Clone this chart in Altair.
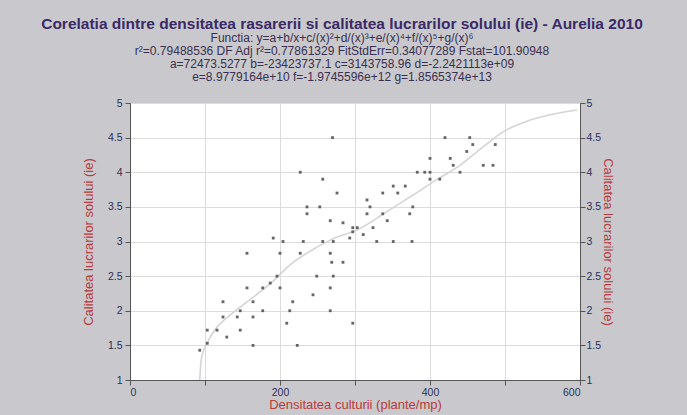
import altair as alt
import pandas as pd

# Observed plots: crop density (plants/m2) vs. soil-work quality score
density = [453, 420, 457, 487, 449, 427, 400, 431, 471, 484,
           440, 400, 393, 383, 413, 400, 351, 367, 337, 357,
           316, 377, 320, 316, 337, 373, 343, 324, 303, 297,
           311, 329, 351, 376, 293, 270, 227, 257, 276, 236,
           253, 236, 267, 284, 204, 231, 257, 271, 297, 191,
           200, 227, 267, 284, 269, 156, 196, 249, 271, 187,
           177, 200, 156, 267, 244, 124, 164, 217, 147, 177,
           213, 267, 124, 143, 164, 209, 297, 103, 116, 147,
           129, 103, 164, 223, 93]
quality = [4.5, 4.5, 4.4, 4.4, 4.3, 4.2, 4.2, 4.1, 4.1, 4.1,
           4.0, 4.0, 4.0, 4.0, 3.9, 3.9, 3.8, 3.8, 3.7, 3.7,
           3.6, 3.5, 3.5, 3.4, 3.4, 3.4, 3.3, 3.2, 3.2, 3.2,
           3.1, 3.0, 3.0, 3.0, 3.05, 4.5, 4.0, 3.9, 3.7, 3.5,
           3.5, 3.4, 3.3, 3.27, 3.0, 3.0, 3.0, 3.0, 3.14, 3.05,
           2.83, 2.83, 2.83, 2.7, 2.7, 2.83, 2.5, 2.5, 2.5, 2.4,
           2.33, 2.33, 2.33, 2.33, 2.23, 2.13, 2.13, 2.13, 2.0, 2.0,
           2.0, 2.0, 1.91, 1.91, 1.91, 1.82, 1.82, 1.72, 1.72, 1.72,
           1.62, 1.53, 1.5, 1.5, 1.43]

# Fitted curve
fit_x = [93, 95, 105, 113, 135, 160, 190, 213, 240, 267, 307, 345, 383, 410, 440, 470, 497, 530, 560, 596]
fit_y = [1.0, 1.3, 1.58, 1.72, 1.95, 2.16, 2.42, 2.66, 2.86, 3.02, 3.19, 3.45, 3.71, 3.90, 4.10, 4.36, 4.58, 4.74, 4.83, 4.90]

title_main = "Corelatia dintre densitatea rasarerii si calitatea lucrarilor solului (ie) - Aurelia 2010"
title_lines = [
    "Functia:  y=a+b/x+c/(x)²+d/(x)³+e/(x)⁴+f/(x)⁵+g/(x)⁶",
    "r²=0.79488536  DF Adj r²=0.77861329  FitStdErr=0.34077289  Fstat=101.90948",
    "a=72473.5277 b=-23423737.1 c=3143758.96 d=-2.2421113e+09",
    "e=8.9779164e+10 f=-1.9745596e+12 g=1.8565374e+13",
]
y_title = "Calitatea lucrarilor solului (ie)"
x_title = "Densitatea culturii (plante/mp)"

pts = pd.DataFrame({"x": density, "y": quality})
fit = pd.DataFrame({"x": fit_x, "y": fit_y})

xscale = alt.Scale(domain=[0, 600], nice=False, zero=False)
yscale = alt.Scale(domain=[1, 5], nice=False, zero=False)
yvals = [1, 1.5, 2, 2.5, 3, 3.5, 4, 4.5, 5]

label_color = "#2a2f5a"
title_color = "#b83a3a"

x_axis = alt.Axis(values=[0, 100, 200, 300, 400, 500, 600],
                  labelExpr="datum.value % 200 == 0 ? datum.label : ''",
                  title=x_title, titleColor=title_color, titleFontSize=13,
                  titleFontWeight="normal", titlePadding=1, labelPadding=2,
                  labelColor=label_color, labelFontSize=10.5,
                  gridColor="#dcdcdc", domainColor="#555555", tickColor="#555555")

def y_axis(orient):
    left = orient == "left"
    return alt.Axis(orient=orient, values=yvals, format="~g", title=y_title,
                    titleColor=title_color, titleFontSize=13, titleFontWeight="normal",
                    titlePadding=12 if left else 0, labelPadding=3 if left else 1,
                    labelColor=label_color, labelFontSize=10.5,
                    gridColor="#dcdcdc", domainColor="#555555", tickColor="#555555",
                    grid=left)

curve = alt.Chart(fit).mark_line(color="#d4d4d4", strokeWidth=1.6, interpolate="monotone").encode(
    x=alt.X("x:Q", scale=xscale, axis=x_axis),
    y=alt.Y("y:Q", scale=yscale, axis=y_axis("left")),
)

dots = alt.Chart(pts).mark_point(shape="square", filled=True, size=8, color="#555555", opacity=0.9).encode(
    x=alt.X("x:Q", scale=xscale),
    y=alt.Y("y:Q", scale=yscale, axis=y_axis("right")),
)

chart = (
    alt.layer(curve, dots)
    .resolve_axis(y="independent")
    .properties(
        width=450,
        height=277,
        autosize=alt.AutoSizeParams(type="none"),
        padding={"left": 130, "top": 103, "right": 107, "bottom": 35},
        background="#c9c9cd",
        title=alt.TitleParams(
            text=title_main,
            subtitle=title_lines,
            anchor="middle",
            dx=-13,
            offset=15,
            font="Liberation Sans",
            fontSize=15.5,
            fontWeight="bold",
            color="#3b2a66",
            subtitleFont="Liberation Sans",
            subtitleFontSize=12,
            subtitleColor="#3a3050",
            subtitleLineHeight=13,
            subtitlePadding=1,
        ),
    )
    .configure_view(fill="white", stroke="#666666", strokeWidth=1)
    .configure_axis(labelFont="Liberation Sans", titleFont="Liberation Sans")
)

chart.save("out.html", embed_options={"renderer": "svg", "actions": False})
